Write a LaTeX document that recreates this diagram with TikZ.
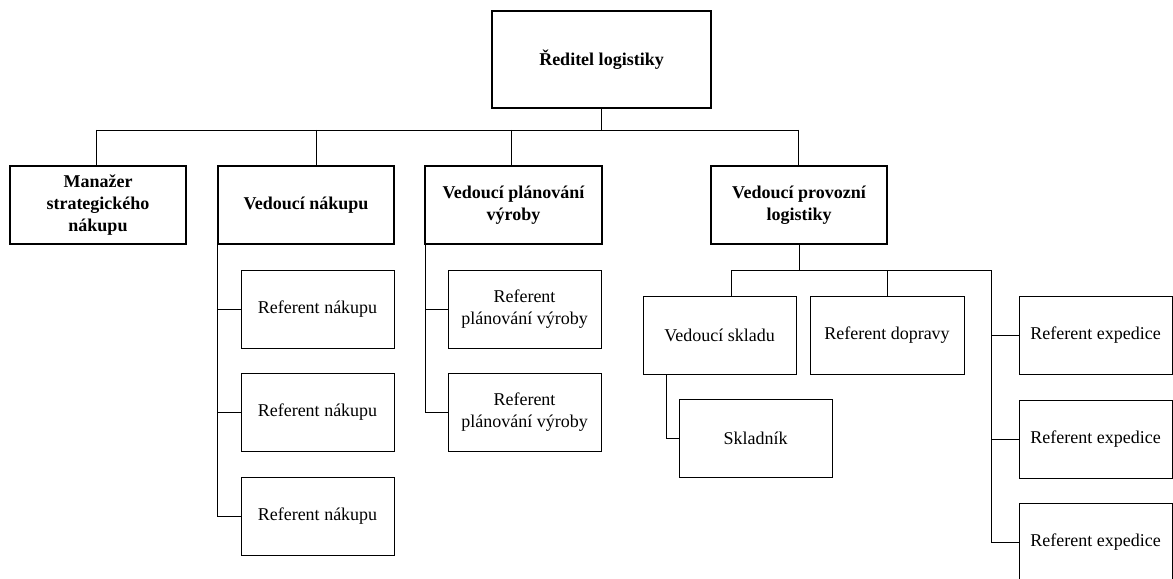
\documentclass[tikz,border=0pt]{standalone}
\usepackage{fontspec}
\setmainfont{Liberation Serif}
\begin{document}
\begin{tikzpicture}[x=1bp,y=-1bp,
  boxbase/.style={draw=black, fill=white, inner sep=0pt, outer sep=0pt, align=center,
    font=\fontsize{18bp}{22bp}\selectfont},
  headbox/.style={boxbase, line width=1.8bp, font=\fontsize{18bp}{22bp}\selectfont\bfseries},
  subbox/.style={boxbase, line width=0.9bp, minimum width=153bp, minimum height=78bp},
  link/.style={draw=black, line width=0.9bp}]
\useasboundingbox (0,0) rectangle (1173,579);

% top
\node[headbox, minimum width=219bp, minimum height=97bp] (top) at (601.5,59.5) {Ředitel logistiky};

% level 2
\node[headbox, minimum width=176bp, minimum height=78bp] (b1) at (98,205) {Manažer\\strategického\\nákupu};
\node[headbox, minimum width=176bp, minimum height=78bp] (b2) at (306,205) {Vedoucí nákupu};
\node[headbox, minimum width=177bp, minimum height=78bp] (b3) at (513.5,205) {Vedoucí plánování\\výroby};
\node[headbox, minimum width=176bp, minimum height=78bp] (b4) at (799,205) {Vedoucí provozní\\logistiky};

% nákup
\node[subbox] (rn1) at (317.5,309) {Referent nákupu};
\node[subbox] (rn2) at (317.5,412.5) {Referent nákupu};
\node[subbox] (rn3) at (317.5,516.5) {Referent nákupu};

% plánování
\node[subbox] (rp1) at (524.5,309) {Referent\\plánování výroby};
\node[subbox] (rp2) at (524.5,412.5) {Referent\\plánování výroby};

% provozní logistika
\node[subbox] (vs) at (719.5,335) {Vedoucí skladu};
\node[subbox, minimum width=154bp] (rd) at (887,335) {Referent dopravy};
\node[subbox] (sk) at (755.5,438.5) {Skladník};
\node[subbox] (re1) at (1095.5,335) {Referent expedice};
\node[subbox] (re2) at (1095.5,439) {Referent expedice};
\node[subbox] (re3) at (1095.5,542) {Referent expedice};

% bus level 1
\coordinate (bus1) at (96,130);
\coordinate (bus2) at (316,130);
\coordinate (bus3) at (511,130);
\coordinate (bus4) at (798,130);
\draw[link] (top.south) -- (top.south |- bus1);
\draw[link] (bus1) -- (bus4);
\draw[link] (bus1) -- (bus1 |- b1.north);
\draw[link] (bus2) -- (bus2 |- b2.north);
\draw[link] (bus3) -- (bus3 |- b3.north);
\draw[link] (bus4) -- (bus4 |- b4.north);

% nákup spine
\coordinate (sp2) at ([xshift=-1bp]b2.south west);
\draw[link] (sp2) |- (rn3.west);
\draw[link] (sp2 |- rn1.west) -- (rn1.west);
\draw[link] (sp2 |- rn2.west) -- (rn2.west);

% plánování spine
\coordinate (sp3) at (b3.south west);
\draw[link] (sp3) |- (rp2.west);
\draw[link] (sp3 |- rp1.west) -- (rp1.west);

% provozní bus
\coordinate (pb1) at (731,270.5);
\coordinate (pb3) at (991,270.5);
\draw[link] (b4.south) -- (b4.south |- pb1);
\draw[link] (pb1) -- (pb3);
\draw[link] (pb1) -- (pb1 |- vs.north);
\draw[link] (rd.north |- pb1) -- (rd.north);
\draw[link] (pb3) |- (re3.west);
\draw[link] (pb3 |- re1.west) -- (re1.west);
\draw[link] (pb3 |- re2.west) -- (re2.west);

% sklad
\coordinate (vsd) at (666,374);
\draw[link] (vsd) |- (sk.west);
\end{tikzpicture}
\end{document}
